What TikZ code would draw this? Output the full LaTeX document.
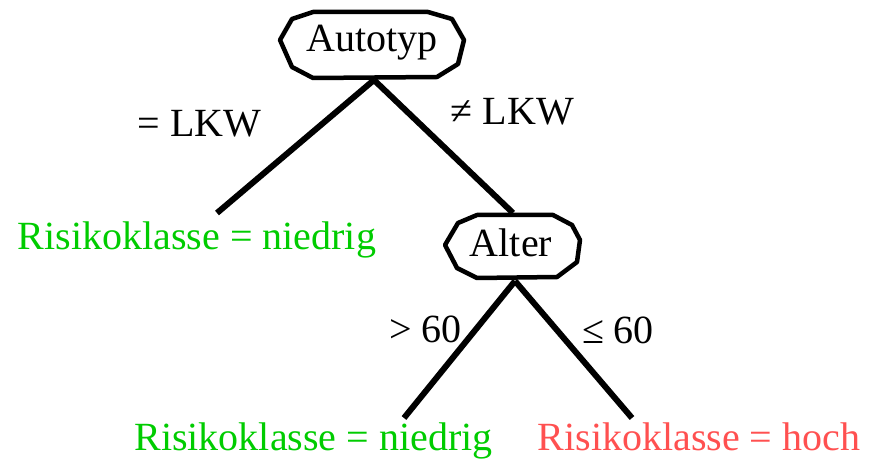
\documentclass[tikz,border=0pt]{standalone}
\usepackage{fontspec}
\setmainfont{Liberation Serif}
\definecolor{leafgreen}{RGB}{0,204,0}
\definecolor{leafred}{RGB}{255,80,80}
\tikzset{
  txt/.style={anchor=base,inner sep=0pt,font=\fontsize{40}{48}\selectfont},
  edge/.style={line width=6pt},
  octa/.style={line width=4.5pt,line join=round,fill=white},
}
\begin{document}
\begin{tikzpicture}[x=1pt,y=-1pt]
\useasboundingbox (0,0) rectangle (875,462);
% decision node shapes
\draw[octa] (280,40) -- (292,19) -- (313,12) -- (428,12) -- (452,19) -- (464,40) -- (458,64) -- (437,77) -- (313,78) -- (292,67) -- cycle;
\draw[octa] (445,245) -- (458,223) -- (477,215) -- (553,215) -- (572,225) -- (580,240) -- (577,262) -- (557,277) -- (477,278) -- (457,268) -- cycle;
% anchor points
\coordinate (autoB) at (374,80);
\coordinate (leaf1T) at (217,213);
\coordinate (alterT) at (513,213);
\coordinate (alterB) at (515,281);
\coordinate (leaf2T) at (404,418);
\coordinate (leaf3T) at (632,418);
% connectors
\draw[edge] (autoB) -- (leaf1T);
\draw[edge] (autoB) -- (alterT);
\draw[edge] (alterB) -- (leaf2T);
\draw[edge] (alterB) -- (leaf3T);
% texts
\node[txt] (auto) at (372,52) {Autotyp};
\node[txt] (alter) at (511,257) {Alter};
\node[txt] (eqlkw) at (199.5,137) {= LKW};
\node[txt] (nelkw) at (512.5,125) {≠ LKW};
\node[txt] (gt) at (425.5,342) {> 60};
\node[txt] (le) at (618,343) {≤ 60};
\node[txt,text=leafgreen] (leaf1) at (197,250) {Risikoklasse = niedrig};
\node[txt,text=leafgreen] (leaf2) at (313.5,450) {Risikoklasse = niedrig};
\node[txt,text=leafred] (leaf3) at (699,450) {Risikoklasse = hoch};
\end{tikzpicture}
\end{document}
